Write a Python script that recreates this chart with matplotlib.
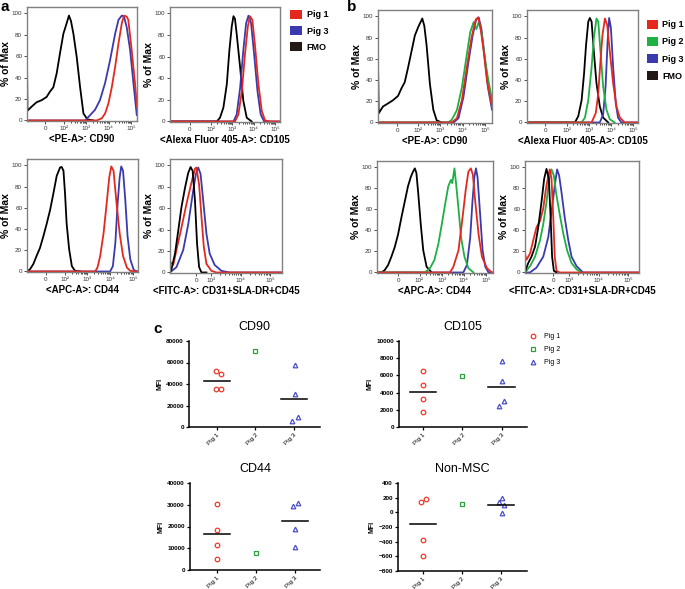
import matplotlib.pyplot as plt
from matplotlib.patches import Patch
from matplotlib.lines import Line2D
import numpy as np

plt.rcParams['font.family'] = ['Liberation Sans', 'DejaVu Sans']

# ---- flow histograms: (position in decades, % of max) ----
A_CD90_FMO = [(0.34, 0), (0.34, 58), (0.36, 9), (0.55, 13), (0.77, 17), (1.0, 19), (1.22, 22), (1.37, 27),
              (1.52, 31), (1.67, 44), (1.82, 63), (1.97, 81), (2.12, 91), (2.22, 98), (2.31, 93), (2.42, 81),
              (2.57, 59), (2.72, 31), (2.87, 6.5), (3.05, 1), (3.32, 0)]
A_CD90_PIG3 = [(0.34, 0), (2.94, 0), (3.17, 5), (3.39, 10), (3.61, 19), (3.84, 35), (4.06, 56), (4.29, 81),
               (4.44, 94), (4.59, 98), (4.69, 97), (4.81, 87), (4.96, 66), (5.11, 35), (5.26, 5)]
A_CD90_PIG1 = [(0.34, 0), (3.46, 0), (3.69, 2), (3.84, 6.5), (3.99, 16), (4.14, 31), (4.29, 50), (4.44, 72),
               (4.59, 91), (4.69, 98), (4.81, 97), (4.88, 94), (5.03, 66), (5.18, 35), (5.27, 13)]

A_CD105_FMO = [(0.09, 0), (2.27, 0), (2.42, 3.4), (2.58, 12.8), (2.74, 34.6), (2.86, 66), (2.97, 88),
               (3.05, 97.5), (3.12, 95), (3.2, 81), (3.36, 50), (3.51, 19), (3.67, 3.4), (3.9, 0)]
A_CD105_PIG3 = [(0.09, 0), (3.05, 0), (3.2, 6.5), (3.36, 31), (3.51, 66), (3.64, 91), (3.75, 98), (3.87, 91),
                (4.01, 63), (4.17, 28), (4.32, 6.5), (4.48, 0), (5.22, 0)]
A_CD105_PIG1 = [(0.09, 0), (3.12, 0), (3.28, 6.5), (3.44, 28), (3.59, 63), (3.72, 88), (3.82, 97.5),
                (3.93, 94), (4.06, 69), (4.21, 35), (4.37, 9.7), (4.52, 1), (4.76, 0), (5.22, 0)]

A_CD44_FMO = [(0.33, 0), (0.46, 2), (0.61, 7), (0.75, 14.5), (0.9, 22), (1.05, 33), (1.2, 45), (1.35, 58),
              (1.49, 73), (1.64, 90), (1.79, 98), (1.86, 98.5), (1.94, 95), (2.01, 73), (2.08, 45), (2.19, 21),
              (2.31, 5), (2.45, 0.6), (2.68, 0)]
A_CD44_PIG3 = [(0.33, 0), (4.0, 0), (4.12, 5), (4.23, 27), (4.33, 64), (4.42, 88.6), (4.49, 99), (4.57, 95),
               (4.67, 67), (4.77, 33), (4.89, 11.4), (5.04, 1.5), (5.19, 0), (5.23, 0)]
A_CD44_PIG1 = [(0.33, 0), (3.34, 0), (3.44, 3.7), (3.56, 14.5), (3.71, 36), (3.86, 67), (3.96, 88.6),
               (4.05, 99), (4.15, 95), (4.27, 67), (4.42, 36), (4.57, 14.5), (4.74, 3.7), (4.89, 0.5), (5.23, 0)]

A_FITC_FMO = [(1.59, 0), (1.64, 3), (1.76, 17.6), (1.87, 39), (1.98, 61), (2.1, 79), (2.21, 93), (2.29, 98.5),
              (2.36, 95), (2.44, 67), (2.51, 27), (2.58, 5), (2.66, 0), (2.83, 0)]
A_FITC_PIG3 = [(1.59, 0), (1.81, 5), (2.04, 21), (2.21, 45), (2.36, 73), (2.47, 92), (2.55, 98), (2.63, 92),
               (2.72, 67), (2.83, 36), (2.94, 17.6), (3.11, 7), (3.34, 1.5), (3.62, 0), (5.4, 0)]
A_FITC_PIG1 = [(1.59, 10), (1.7, 7), (1.81, 21), (1.98, 42), (2.15, 64), (2.32, 84), (2.44, 97), (2.49, 98),
               (2.58, 82), (2.66, 52), (2.74, 24), (2.83, 8), (3.0, 1.5), (3.17, 0), (5.4, 0)]

B_CD90_FMO = [(0.24, 0), (0.24, 58), (0.27, 8.6), (0.46, 15), (0.69, 18), (0.91, 21), (1.13, 25), (1.28, 32),
              (1.43, 38), (1.58, 52), (1.73, 67), (1.88, 82), (2.03, 90), (2.21, 98), (2.3, 91), (2.4, 73),
              (2.55, 36), (2.7, 12), (2.85, 2), (3.07, 0)]
B_CD90_PIG3 = [(0.24, 0), (3.6, 0), (3.82, 4), (4.04, 24), (4.27, 58), (4.45, 82), (4.61, 97.5), (4.72, 99),
               (4.84, 88), (4.99, 61), (5.13, 33), (5.31, 12)]
B_CD90_PIG2 = [(0.24, 0), (3.37, 0), (3.52, 2.5), (3.75, 11.7), (3.97, 33), (4.19, 64), (4.34, 85), (4.49, 94.5),
               (4.61, 88), (4.72, 94.5), (4.84, 85), (4.99, 61), (5.13, 42), (5.31, 21)]
B_CD90_PIG1 = [(0.24, 0), (3.52, 0), (3.75, 4), (3.97, 21), (4.19, 52), (4.39, 79), (4.57, 96), (4.69, 99),
               (4.79, 91), (4.94, 67), (5.09, 39), (5.31, 15)]

B_CD105_FMO = [(0.21, 0), (2.37, 0), (2.52, 6), (2.67, 21), (2.78, 46), (2.87, 73), (2.97, 95), (3.04, 98.5),
               (3.12, 95), (3.22, 67), (3.34, 37), (3.49, 15), (3.64, 4.6), (3.87, 0)]
B_CD105_PIG3 = [(0.21, 0), (3.49, 0), (3.64, 7.6), (3.75, 34), (3.84, 76), (3.91, 98.5), (3.99, 89), (4.09, 52),
                (4.21, 18), (4.31, 4.6), (4.46, 0), (5.21, 0)]
B_CD105_PIG2 = [(0.21, 0), (2.67, 0), (2.82, 4.6), (2.97, 21), (3.12, 52), (3.22, 79.5), (3.34, 98), (3.42, 95),
                (3.52, 67), (3.64, 34), (3.79, 12), (3.94, 3), (4.16, 0)]
B_CD105_PIG1 = [(0.21, 0), (3.12, 0), (3.31, 9), (3.42, 27.5), (3.52, 58), (3.61, 82.5), (3.72, 98), (3.82, 92),
                (3.94, 67), (4.09, 37), (4.24, 15), (4.39, 4.6), (4.61, 0), (5.21, 0)]

B_CD44_FMO = [(0.08, 0), (0.27, 0), (0.42, 2), (0.58, 7), (0.73, 15), (0.88, 24), (1.03, 36), (1.18, 52),
              (1.33, 67), (1.48, 82), (1.61, 91), (1.71, 96), (1.79, 99), (1.86, 94.5), (1.94, 76), (2.06, 45),
              (2.17, 21), (2.32, 5.5), (2.55, 0)]
B_CD44_PIG3 = [(0.08, 0), (3.98, 0), (4.14, 7), (4.29, 33), (4.39, 67), (4.48, 91), (4.55, 99), (4.62, 91),
               (4.73, 58), (4.85, 21), (4.97, 5.5), (5.12, 0), (5.32, 0)]
B_CD44_PIG2 = [(0.08, 0), (2.24, 0), (2.47, 4), (2.67, 11.7), (2.85, 27), (3.0, 45), (3.15, 64), (3.3, 82),
               (3.42, 88), (3.48, 85), (3.58, 99), (3.65, 85), (3.76, 61), (3.88, 33), (4.03, 15), (4.21, 4),
               (4.44, 0)]
B_CD44_PIG1 = [(0.08, 0), (3.38, 0), (3.53, 5.5), (3.76, 21), (3.94, 51.5), (4.09, 79), (4.21, 96), (4.32, 99),
               (4.41, 93), (4.52, 67), (4.67, 36), (4.82, 15), (5.05, 4), (5.27, 0)]

B_FITC_FMO = [(1.5, 0), (1.53, 3), (1.61, 9), (1.72, 15), (1.84, 24.5), (1.95, 43), (2.06, 67), (2.15, 89),
              (2.23, 98.5), (2.31, 89), (2.37, 52), (2.42, 15), (2.48, 1.5), (2.57, 0)]
B_FITC_PIG3 = [(1.5, 0), (1.67, 0), (1.89, 4.6), (2.12, 15), (2.29, 33.6), (2.4, 58), (2.51, 82.6), (2.59, 98),
               (2.66, 92), (2.74, 76), (2.85, 52), (2.97, 30.6), (3.08, 15), (3.25, 6), (3.47, 0), (5.37, 0)]
B_FITC_PIG2 = [(1.5, 0), (1.67, 6), (1.84, 15), (2.01, 30.6), (2.12, 46), (2.23, 67), (2.32, 89), (2.4, 98),
               (2.48, 92), (2.57, 73), (2.68, 55), (2.8, 37), (2.93, 21), (3.08, 9), (3.25, 3), (3.42, 0)]
B_FITC_PIG1 = [(1.5, 18), (1.55, 12), (1.67, 18), (1.78, 30.6), (1.89, 43), (2.01, 49), (2.12, 61), (2.21, 79.5),
               (2.29, 92), (2.34, 98), (2.4, 89), (2.46, 52), (2.51, 15), (2.57, 1.5), (2.68, 0), (5.37, 0)]

# ---- MFI per pig (panel c) ----
PIGS = ['Pig 1', 'Pig 2', 'Pig 3']
CD90_MFI = [[52500, 49000, 35000, 35000], [70500], [58000, 31000, 9500, 6000]]
CD105_MFI = [[6500, 4900, 3300, 1700], [5900], [7700, 5400, 3000, 2500]]
CD44_MFI = [[30500, 18500, 11500, 5000], [7800], [31000, 29500, 19000, 10500]]
NONMSC_MFI = [[180, 135, -380, -590], [120], [200, 140, 95, -10]]
# horizontal scatter of the dots inside each group
CD90_JIT = [[-0.04, 0.09, -0.04, 0.09], [0], [0.03, 0.03, 0.1, -0.04]]
CD105_JIT = [[0, 0, 0, 0], [0], [0, 0, 0.06, -0.07]]
CD44_JIT = [[0, 0, 0, 0], [0], [0.07, -0.06, 0, 0]]
NONMSC_JIT = [[0.07, -0.06, 0, 0], [0], [0.02, -0.05, 0.08, 0.02]]

RED = '#e5281e'
BLUE = '#3a3aae'
GREEN = '#1db043'
FMO = '#231815'
C_COLORS = ['#e8392b', '#2e9e3e', '#4a4fc4']
C_MARKERS = ['o', 's', '^']

W, H = 685, 589
fig = plt.figure(figsize=(W / 100, H / 100), dpi=100)


def rect(l, r, t, b):
    return [l / W, 1 - b / H, (r - l) / W, (b - t) / H]


def histo(box, xlim, zero, curves, xlabel, decades=(2, 3, 4, 5)):
    ax = fig.add_axes(rect(*box))
    for pts, col in curves:
        u, y = zip(*pts)
        ax.plot(u, y, color=col, lw=1.3, solid_joinstyle='round')
    ax.set_xlim(*xlim)
    ax.set_ylim(-0.5, 106)
    ticks = [zero] + list(decades)
    labels = ['0'] + ['10' + '⁰¹²³⁴⁵'[d] for d in decades]
    ax.set_xticks(ticks)
    ax.set_xticklabels(labels)
    minors = [d + np.log10(m) for d in decades[:-1] for m in range(2, 10)]
    ax.set_xticks(minors, minor=True)
    ax.set_yticks([0, 20, 40, 60, 80, 100])
    ax.tick_params(labelsize=4.5, length=2, width=0.6, pad=1.5, colors='#333333')
    ax.tick_params(which='minor', length=1.2, width=0.5)
    for s in ax.spines.values():
        s.set_color('#808080')
        s.set_linewidth(1.0)
    ax.set_xlabel(xlabel, fontsize=7, fontweight='bold', labelpad=2)
    ax.set_ylabel('% of Max', fontsize=7.5, fontweight='bold', labelpad=0.5)
    return ax


histo((27, 137, 7, 121), (0.34, 5.27), 1.15,
      [(A_CD90_FMO, 'black'), (A_CD90_PIG3, BLUE), (A_CD90_PIG1, RED)], '<PE-A>: CD90')
histo((170, 280, 7, 122), (0.09, 5.22), 1.02,
      [(A_CD105_FMO, 'black'), (A_CD105_PIG3, BLUE), (A_CD105_PIG1, RED)], '<Alexa Fluor 405-A>: CD105')
histo((27, 138, 159, 272), (0.33, 5.23), 1.15,
      [(A_CD44_FMO, 'black'), (A_CD44_PIG3, BLUE), (A_CD44_PIG1, RED)], '<APC-A>: CD44')
histo((170, 282, 159, 273), (1.59, 5.4), 2.49,
      [(A_FITC_PIG3, BLUE), (A_FITC_PIG1, RED), (A_FITC_FMO, 'black')], '<FITC-A>: CD31+SLA-DR+CD45',
      decades=(3, 4, 5))

histo((378, 492, 10, 123), (0.24, 5.31), 1.1,
      [(B_CD90_FMO, 'black'), (B_CD90_PIG3, BLUE), (B_CD90_PIG2, GREEN), (B_CD90_PIG1, RED)], '<PE-A>: CD90')
histo((527, 638, 10, 123), (0.21, 5.21), 1.03,
      [(B_CD105_FMO, 'black'), (B_CD105_PIG3, BLUE), (B_CD105_PIG2, GREEN), (B_CD105_PIG1, RED)],
      '<Alexa Fluor 405-A>: CD105')
histo((377, 493, 161, 273), (0.08, 5.32), 1.03,
      [(B_CD44_FMO, 'black'), (B_CD44_PIG3, BLUE), (B_CD44_PIG2, GREEN), (B_CD44_PIG1, RED)], '<APC-A>: CD44')
histo((525, 639, 161, 273), (1.5, 5.37), 2.46,
      [(B_FITC_PIG3, BLUE), (B_FITC_PIG2, GREEN), (B_FITC_PIG1, RED), (B_FITC_FMO, 'black')],
      '<FITC-A>: CD31+SLA-DR+CD45', decades=(3, 4, 5))

leg_a = [Patch(facecolor=c, edgecolor='none') for c in (RED, BLUE, FMO)]
fig.legend(leg_a, ['Pig 1', 'Pig 3', 'FMO'], loc='upper left', bbox_to_anchor=(290 / W, 1 - 10 / H),
           frameon=False, handlelength=1.35, handleheight=1.1, handletextpad=0.5, labelspacing=0.75,
           borderpad=0, borderaxespad=0, prop={'weight': 'bold', 'size': 6.5})
leg_b = [Patch(facecolor=c, edgecolor='none') for c in (RED, GREEN, BLUE, FMO)]
fig.legend(leg_b, ['Pig 1', 'Pig 2', 'Pig 3', 'FMO'], loc='upper left', bbox_to_anchor=(647 / W, 1 - 20 / H),
           frameon=False, handlelength=1.2, handleheight=1.1, handletextpad=0.5, labelspacing=0.85,
           borderpad=0, borderaxespad=0, prop={'weight': 'bold', 'size': 6.5})


def dots(box, xlim, ylim, yticks, title, values, jitter):
    ax = fig.add_axes(rect(*box))
    for i, (vals, jit) in enumerate(zip(values, jitter)):
        x = [i + 1 + j for j in jit]
        ax.plot(x, vals, linestyle='none', marker=C_MARKERS[i], ms=3.3, mfc='none',
                mec=C_COLORS[i], mew=0.9, clip_on=False)
        if len(vals) > 1:
            m = np.mean(vals)
            ax.plot([i + 1 - 0.34, i + 1 + 0.34], [m, m], color='black', lw=1.1)
    ax.set_xlim(*xlim)
    ax.set_ylim(*ylim)
    ax.set_yticks(yticks)
    ax.set_xticks([1, 2, 3])
    ax.set_xticklabels(PIGS, rotation=45, ha='right', rotation_mode='anchor')
    for s in ('top', 'right'):
        ax.spines[s].set_visible(False)
    for s in ('left', 'bottom'):
        ax.spines[s].set_linewidth(1.1)
    ax.tick_params(labelsize=4.6, length=2.2, width=0.9, pad=1.5)
    for t in ax.get_yticklabels():
        t.set_fontweight('bold')
    ax.set_ylabel('MFI', fontsize=5, fontweight='bold', labelpad=2)
    ax.set_title(title, fontsize=9, pad=8)
    return ax


dots((189, 320, 341, 427), (0.27, 3.68), (0, 80000), range(0, 80001, 20000), 'CD90', CD90_MFI, CD90_JIT)
dots((399, 527, 341, 427), (0.39, 3.64), (0, 10000), range(0, 10001, 2000), 'CD105', CD105_MFI, CD105_JIT)
dots((190, 320, 483, 570), (0.31, 3.64), (0, 40000), range(0, 40001, 10000), 'CD44', CD44_MFI, CD44_JIT)
dots((398, 527, 483, 571), (0.36, 3.67), (-800, 400), range(-800, 401, 200), 'Non-MSC', NONMSC_MFI, NONMSC_JIT)

leg_c = [Line2D([], [], linestyle='none', marker=m, ms=3.3, mfc='none', mec=c, mew=0.9)
         for m, c in zip(C_MARKERS, C_COLORS)]
fig.legend(leg_c, PIGS, loc='upper left', bbox_to_anchor=(530 / W, 1 - 333 / H), frameon=False,
           handlelength=1.0, handletextpad=1.0, labelspacing=0.9, borderpad=0, borderaxespad=0,
           prop={'size': 5})

fig.text(5 / W, 1 - 7 / H, 'a', fontsize=11, fontweight='bold', va='center', ha='center')
fig.text(352 / W, 1 - 7 / H, 'b', fontsize=11, fontweight='bold', va='center', ha='center')
fig.text(158 / W, 1 - 329 / H, 'c', fontsize=11, fontweight='bold', va='center', ha='center')

fig.savefig('out.png', dpi=100)
